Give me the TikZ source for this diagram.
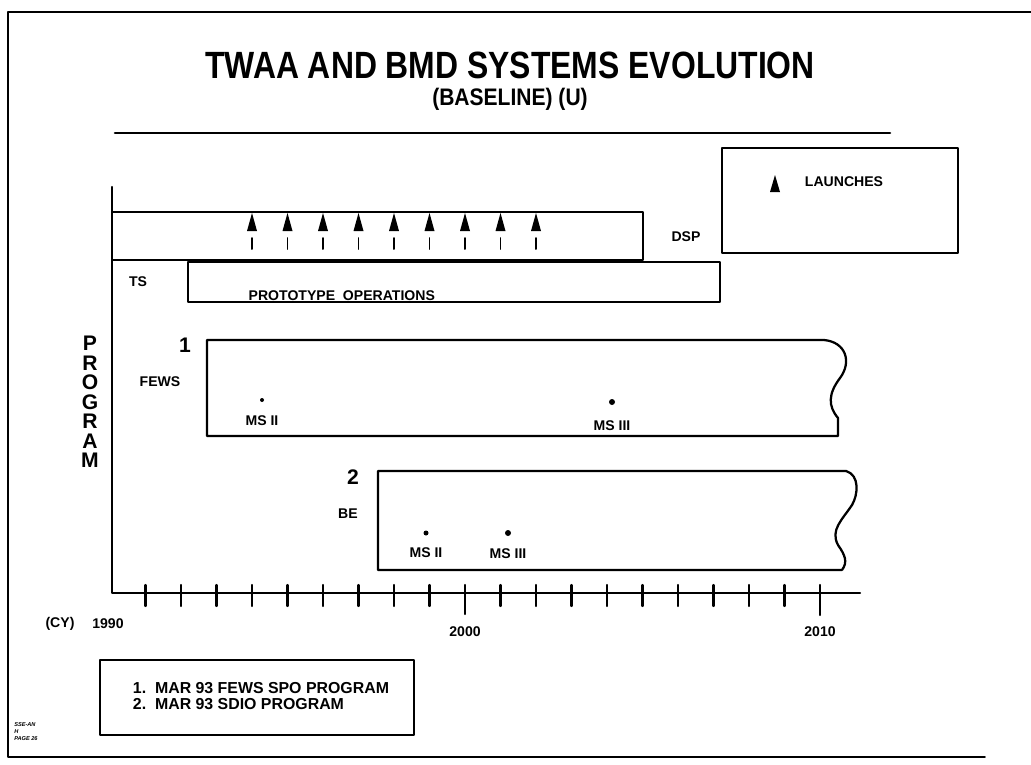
\documentclass[tikz,border=0pt]{standalone}
\usepackage{fontspec}
\setmainfont{Liberation Sans}
\newfontfamily\narrowfont[FakeStretch=0.84]{Liberation Sans}
\newfontfamily\subfont[FakeStretch=0.88]{Liberation Sans}
\begin{document}
\begin{tikzpicture}[x=0.025cm, y=-0.025cm, font=\bfseries\fontsize{10}{12}\selectfont, line join=round, line cap=round, >=stealth]
\useasboundingbox (0,0) rectangle (1031,764);
% frame and title
\draw[line width=1.3pt] (1031,12) -- (8,12) -- (8,757) -- (985,757);
\node[inner sep=0pt] (title) at (510,65) {\narrowfont\fontsize{27}{28}\selectfont TWAA AND BMD SYSTEMS EVOLUTION};
\node[inner sep=0pt] (subtitle) at (510,99) {\subfont\fontsize{17}{19}\selectfont (BASELINE) (U)};
\draw[line width=1.8pt] (115,133) -- (890,133);
% launches key
\draw[line width=1.6pt] (722,148) rectangle (958,253);
\fill (775,175) -- ++(5,17) -- ++(-10,0) -- cycle;
\node[anchor=west] (launches) at (800,182) {LAUNCHES};
% axes
\draw[line width=1.6pt] (112,187) -- (112,593) -- (860,593);
\foreach \i in {1,...,20} \draw[line width=1.6pt] ({110+35.5*\i},585) -- ({110+35.5*\i},606);
\draw[line width=1.6pt] ({110+35.5*10},606) -- ({110+35.5*10},614);
\draw[line width=1.6pt] ({110+35.5*20},606) -- ({110+35.5*20},615);
\node (cy) at (60,624) {(CY)};
\node (y1990) at (108,624) {1990};
\node (y2000) at (465,632) {2000};
\node (y2010) at (820,632) {2010};
\node[align=center, font=\bfseries\fontsize{15}{13.9}\selectfont] (program) at (90,402) {P\\R\\O\\G\\R\\A\\M};
% DSP and TS
\draw[line width=1.6pt] (112,212) rectangle (643,260);
\node (dsp) at (686,237) {DSP};
\foreach \i in {4,...,12} {
  \fill ({110+35.5*\i},213) -- ++(5,18) -- ++(-10,0) -- cycle;
  \draw[line width=1.4pt] ({110+35.5*\i},238) -- ({110+35.5*\i},249);
}
\draw[line width=1.6pt] (188,262) rectangle (720,302);
\node (ts) at (138,282) {TS};
\node[anchor=south west, inner sep=1pt] (proto) at (247,302) {PROTOTYPE\ \ OPERATIONS};
% FEWS
\draw[line width=1.6pt] (838,436) -- (207,436) -- (207,340) -- (824,340)
  .. controls (846,342) and (852,362) .. (840,378)
  .. controls (828,394) and (828,406) .. (838,418) -- cycle;
\node[font=\bfseries\fontsize{15}{18}\selectfont] (one) at (185,345) {1};
\node (fews) at (160,382) {FEWS};
\fill (262,400) circle (2);
\node (fmsii) at (262,421) {MS II};
\fill (612,402) circle (3);
\node (fmsiii) at (612,426) {MS III};
% BE
\draw[line width=1.6pt] (842,570) -- (378,570) -- (378,471) -- (846,471)
  .. controls (860,475) and (858,495) .. (852,505)
  .. controls (842,520) and (830,530) .. (838,545)
  .. controls (845,555) and (848,562) .. (842,570);
\node[font=\bfseries\fontsize{15}{18}\selectfont] (two) at (353,477) {2};
\node (be) at (348,514) {BE};
\fill (426,533) circle (2.5);
\node (bmsii) at (426,553) {MS II};
\fill (508,533) circle (3);
\node (bmsiii) at (508,554) {MS III};
% notes
\draw[line width=1.6pt] (100,660) rectangle (414,735);
\node[anchor=west, align=left, font=\bfseries\fontsize{11.3}{11}\selectfont] (notes) at (128,696) {1.\ \ MAR 93 FEWS SPO PROGRAM\\2.\ \ MAR 93 SDIO PROGRAM};
\node[anchor=north west, align=left, inner sep=0pt, font=\bfseries\itshape\fontsize{4}{5}\selectfont] (page) at (14,722) {SSE-AN\\H\\PAGE 26};
\end{tikzpicture}
\end{document}
